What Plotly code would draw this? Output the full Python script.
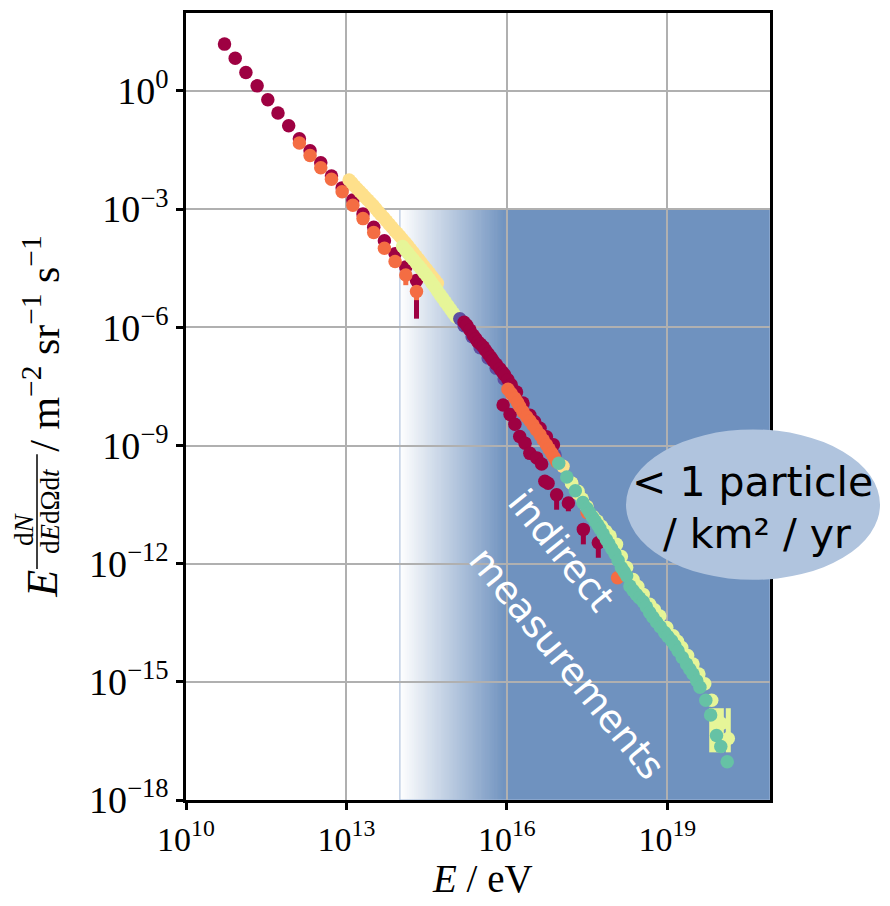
import numpy as np
import plotly.graph_objects as go

# ---------------- data (log10 E/eV , log10 flux) ----------------
# low-energy direct measurements (dark red)
a_logE = [10.72, 10.92, 11.12, 11.33, 11.53, 11.72, 11.92, 12.12, 12.32, 12.52,
          12.72, 12.92, 13.12, 13.31, 13.51, 13.71, 13.91, 14.11, 14.31]
a_logF = [1.19, 0.83, 0.47, 0.13, -0.22, -0.56, -0.88, -1.21, -1.52, -1.82,
          -2.16, -2.46, -2.77, -3.12, -3.46, -3.80, -4.13, -4.47, -4.81]
a_logLow = [None] * 17 + [-4.62, -5.78]

# direct measurements (orange)
b_logE = [12.12, 12.32, 12.52, 12.72, 12.92, 13.12, 13.31, 13.51, 13.71, 13.91, 14.11, 14.31]
b_logF = [-1.32, -1.64, -1.95, -2.24, -2.56, -2.90, -3.24, -3.59, -3.99, -4.33, -4.67, -5.09]
b_logLow = [None] * 10 + [-4.93, -5.31]

# dense direct measurement (light yellow)
c_logE = [13.05, 13.10, 13.15, 13.20, 13.25, 13.30, 13.35, 13.40, 13.45, 13.50,
          13.55, 13.60, 13.65, 13.70, 13.75, 13.80, 13.85, 13.90, 13.95, 14.00,
          14.05, 14.10, 14.15, 14.20, 14.25, 14.30, 14.35, 14.40, 14.45, 14.50,
          14.55, 14.60, 14.65, 14.70]
c_logF = [-2.26, -2.33, -2.41, -2.48, -2.55, -2.62, -2.70, -2.77, -2.84, -2.91,
          -2.99, -3.07, -3.15, -3.22, -3.30, -3.38, -3.46, -3.54, -3.61, -3.69,
          -3.77, -3.85, -3.93, -4.02, -4.10, -4.19, -4.27, -4.36, -4.45, -4.53,
          -4.62, -4.71, -4.79, -4.88]

# dense measurement (yellow-green)
d_logE = [14.05, 14.10, 14.15, 14.20, 14.25, 14.30, 14.35, 14.40, 14.45, 14.50,
          14.55, 14.60, 14.65, 14.70, 14.75, 14.80, 14.85, 14.90, 14.95, 15.00, 15.05]
d_logF = [-3.95, -4.03, -4.11, -4.20, -4.28, -4.36, -4.44, -4.52, -4.61, -4.69,
          -4.78, -4.88, -4.97, -5.07, -5.17, -5.26, -5.36, -5.45, -5.55, -5.64, -5.74]

# purple set (mostly hidden)
e_logE = [15.12, 15.20, 15.35, 15.50, 15.65, 15.80, 15.95, 16.10, 16.30, 16.50, 16.70, 16.90]
e_logF = [-5.78, -5.96, -6.24, -6.52, -6.78, -7.04, -7.31, -7.58, -7.98, -8.38, -8.80, -9.24]

# knee region (dark red)
f_logE = [15.20, 15.25, 15.31, 15.37, 15.42, 15.46, 15.51, 15.56, 15.60, 15.65,
          15.70, 15.74, 15.80, 15.87, 15.92, 15.96, 16.02, 16.08, 16.18, 16.30,
          16.43, 16.52, 16.62, 16.74, 16.87]
f_logF = [-5.87, -5.95, -6.07, -6.20, -6.29, -6.37, -6.43, -6.50, -6.58, -6.67,
          -6.76, -6.84, -6.94, -7.05, -7.14, -7.21, -7.33, -7.46, -7.64, -7.92,
          -8.23, -8.40, -8.56, -8.78, -8.98]

# lower branch (dark red) with error bars
k_logE = [15.93, 16.06, 16.15, 16.24, 16.34, 16.43, 16.56, 16.65, 16.71, 16.77,
          16.93, 17.15, 17.43, 17.71]
k_logF = [-7.97, -8.21, -8.46, -8.77, -8.94, -9.20, -9.32, -9.47, -9.91, -9.96,
          -10.25, -10.46, -11.13, -11.47]
k_logLow = [None] * 10 + [-10.63, -10.67, -11.51, -11.85]

# knee region (orange)
g_logE = [16.02, 16.08, 16.15, 16.20, 16.24, 16.30, 16.37, 16.43, 16.49, 16.55,
          16.62, 16.68, 16.74, 16.79, 16.84, 16.89, 16.93, 17.50, 18.07]
g_logF = [-7.57, -7.68, -7.80, -7.91, -8.01, -8.14, -8.27, -8.37, -8.48, -8.60,
          -8.73, -8.86, -8.98, -9.09, -9.20, -9.31, -9.41, -10.70, -12.36]

# light yellow set near the second knee
h_logE = [17.05, 17.21, 17.33, 17.50]
h_logF = [-9.53, -9.95, -10.22, -10.56]

# ultra-high-energy set (yellow-green)
j_logE = [17.21, 17.33, 17.41, 17.49, 17.61, 17.69, 17.77, 17.85, 17.93, 18.05, 18.14,
          18.24, 18.36, 18.45, 18.55, 18.67, 18.76, 18.86, 18.99, 19.11, 19.19, 19.27,
          19.38, 19.48, 19.59, 19.70, 19.83, 19.92, 20.01, 20.14]
j_logF = [-9.96, -10.16, -10.36, -10.54, -10.80, -10.92, -11.05, -11.18, -11.30, -11.51, -11.82,
          -12.10, -12.40, -12.58, -12.78, -13.03, -13.17, -13.33, -13.62, -13.83, -13.97, -14.13,
          -14.33, -14.55, -14.80, -15.05, -15.47, -15.90, -16.06, -16.44]
j_logLow = [None] * 26 + [-16.79, -16.79, -16.79, -16.79]
j_logHigh = [None] * 26 + [-15.67, -15.67, -15.67, -15.67]

# ultra-high-energy set (teal)
i_logE = [16.97, 17.12, 17.28, 17.42, 17.50, 17.55, 17.60, 17.65, 17.70, 17.74, 17.80, 17.86,
          17.91, 17.96, 18.02, 18.08, 18.14, 18.19, 18.24, 18.30, 18.36, 18.42, 18.48, 18.55,
          18.61, 18.67, 18.73, 18.80, 18.87, 18.95, 19.01, 19.08, 19.14, 19.20, 19.28,
          19.36, 19.42, 19.48, 19.55, 19.61, 19.72, 19.81, 19.92, 20.00, 20.12]
i_logF = [-9.45, -9.80, -10.15, -10.45, -10.60, -10.71, -10.82, -10.92, -11.02, -11.11, -11.25, -11.39,
          -11.50, -11.62, -11.75, -11.92, -12.10, -12.20, -12.31, -12.57, -12.68, -12.78, -12.87, -12.97,
          -13.10, -13.24, -13.36, -13.49, -13.61, -13.75, -13.85, -13.96, -14.08, -14.21, -14.38,
          -14.55, -14.68, -14.80, -14.97, -15.14, -15.47, -15.84, -16.36, -16.64, -17.03]
i_logLow = [None] * 44 + [-17.18]

x_ticks = [1e10, 1e13, 1e16, 1e19]
x_ticktext = ["10<sup>10</sup>", "10<sup>13</sup>", "10<sup>16</sup>", "10<sup>19</sup>"]
y_ticks = [1e0, 1e-3, 1e-6, 1e-9, 1e-12, 1e-15, 1e-18]
y_ticktext = ["10<sup>0</sup>", "10<sup>\u22123</sup>", "10<sup>\u22126</sup>", "10<sup>\u22129</sup>",
              "10<sup>\u221212</sup>", "10<sup>\u221215</sup>", "10<sup>\u221218</sup>"]

# Spectral palette colours
DARKRED = "#9e0142"
ORANGE = "#f46d43"
LYELLOW = "#fee08b"
YGREEN = "#e6f598"
TEAL = "#66c2a5"
PURPLE = "#5e4fa2"

X_RANGE = [10.0, 20.92]
Y_RANGE = [-18.0, 1.98]
MSIZE = 13.5

fig = go.Figure()


def add_series(logE, logF, color, logLow=None, logHigh=None, size=MSIZE):
    x = np.power(10.0, np.array(logE))
    y = np.power(10.0, np.array(logF))
    err = None
    if logLow is not None or logHigh is not None:
        lo = [0.0] * len(logF)
        hi = [0.0] * len(logF)
        if logLow is not None:
            lo = [(yy - 10.0 ** l) if l is not None else 0.0 for yy, l in zip(y, logLow)]
        if logHigh is not None:
            hi = [(10.0 ** h - yy) if h is not None else 0.0 for yy, h in zip(y, logHigh)]
        err = dict(type="data", symmetric=False, array=hi, arrayminus=lo,
                   color=color, thickness=5, width=0)
    fig.add_trace(go.Scatter(x=x, y=y, mode="markers",
                             marker=dict(color=color, size=size, line=dict(width=0)),
                             error_y=err, showlegend=False, hoverinfo="skip"))


add_series(a_logE, a_logF, DARKRED, a_logLow)
add_series(b_logE, b_logF, ORANGE, b_logLow)
add_series(c_logE, c_logF, LYELLOW)
add_series(d_logE, d_logF, YGREEN)
add_series(e_logE, e_logF, PURPLE)
add_series(f_logE, f_logF, DARKRED)
add_series(k_logE, k_logF, DARKRED, k_logLow)
add_series(g_logE, g_logF, ORANGE)
add_series(h_logE, h_logF, LYELLOW)
add_series(j_logE, j_logF, YGREEN, j_logLow, j_logHigh)
add_series(i_logE, i_logF, TEAL, i_logLow)

# ---------------- shaded "indirect measurements" region ----------------
shapes = []
blue = np.array([111, 146, 191])
white = np.array([255, 255, 255])
n = 60
g0, g1 = 14.0, 16.0
for k in range(n):
    t = (k + 0.5) / n
    c = white * (1 - t) + blue * t
    xa = 10 ** (g0 + (g1 - g0) * k / n)
    xb = 10 ** (g0 + (g1 - g0) * (k + 1.4) / n)
    shapes.append(dict(type="rect", xref="x", yref="y", x0=xa, x1=min(xb, 10 ** g1),
                       y0=10 ** Y_RANGE[0], y1=1e-3, layer="below",
                       fillcolor="rgb(%d,%d,%d)" % tuple(c.astype(int)), line=dict(width=0)))
shapes.append(dict(type="rect", xref="x", yref="y", x0=10 ** g1, x1=10 ** X_RANGE[1],
                   y0=10 ** Y_RANGE[0], y1=1e-3, layer="below",
                   fillcolor="rgb(111,146,191)", line=dict(width=0)))
shapes.append(dict(type="rect", xref="x", yref="y", x0=1e14, x1=10 ** X_RANGE[1],
                   y0=10 ** Y_RANGE[0], y1=1e-3, layer="below",
                   fillcolor="rgba(0,0,0,0)", line=dict(width=1, color="#a3b9d8")))

# plot-area pixel helpers (plot area: x 186..770, y 10..800)
L, R, T, B = 186, 770, 10, 800
def px(xp):
    return (xp - L) / (R - L)
def py(yp):
    return (B - yp) / (B - T)

# ellipse
shapes.append(dict(type="circle", xref="paper", yref="paper",
                   x0=px(626), x1=px(880), y0=py(579), y1=py(428),
                   fillcolor="#b0c4de", line=dict(width=0), layer="above"))
# fraction bar of y-axis label
shapes.append(dict(type="line", xref="paper", yref="paper",
                   x0=px(37), x1=px(37), y0=py(568), y1=py(453),
                   line=dict(color="black", width=1.5)))

annotations = []
sans = "DejaVu Sans"
serif = "Liberation Serif"
annotations.append(dict(text="< 1 particle", xref="paper", yref="paper", x=px(752), y=py(481),
                        showarrow=False, font=dict(family=sans, size=41, color="black"),
                        xanchor="center", yanchor="middle"))
annotations.append(dict(text="/ km\u00b2 / yr", xref="paper", yref="paper", x=px(757), y=py(533),
                        showarrow=False, font=dict(family=sans, size=41, color="black"),
                        xanchor="center", yanchor="middle"))
annotations.append(dict(text="indirect", xref="paper", yref="paper", x=px(561), y=py(549),
                        showarrow=False, textangle=51, font=dict(family=sans, size=38, color="white"),
                        xanchor="center", yanchor="middle"))
annotations.append(dict(text="measurements", xref="paper", yref="paper", x=px(567), y=py(662),
                        showarrow=False, textangle=51, font=dict(family=sans, size=38, color="white"),
                        xanchor="center", yanchor="middle"))
# axis titles
annotations.append(dict(text="<i>E</i> / eV", xref="paper", yref="paper", x=px(482), y=py(879),
                        showarrow=False, font=dict(family=serif, size=39, color="black"),
                        xanchor="center", yanchor="middle"))
annotations.append(dict(text="<i>E</i>", xref="paper", yref="paper", x=px(43), y=py(583),
                        showarrow=False, textangle=-90, font=dict(family=serif, size=44, color="black"),
                        xanchor="center", yanchor="middle"))
annotations.append(dict(text="d<i>N</i>", xref="paper", yref="paper", x=px(24), y=py(528),
                        showarrow=False, textangle=-90, font=dict(family=serif, size=27, color="black"),
                        xanchor="center", yanchor="middle"))
annotations.append(dict(text="d<i>E</i>d\u03a9d<i>t</i>", xref="paper", yref="paper", x=px(50), y=py(510),
                        showarrow=False, textangle=-90, font=dict(family=serif, size=27, color="black"),
                        xanchor="center", yanchor="middle"))
annotations.append(dict(text="/ m<sup>\u22122</sup> sr<sup>\u22121</sup> s<sup>\u22121</sup>",
                        xref="paper", yref="paper", x=px(42), y=py(342),
                        showarrow=False, textangle=-90, font=dict(family=serif, size=42, color="black"),
                        xanchor="center", yanchor="middle"))

axis_common = dict(type="log", showgrid=True, gridcolor="#b0b0b0", gridwidth=1.6,
                   showline=True, linecolor="black", linewidth=2.5, mirror=True,
                   ticks="outside", ticklen=7, tickwidth=2.5, tickcolor="black",
                   zeroline=False)

fig.update_layout(
    width=890, height=906,
    margin=dict(l=L, r=890 - R, t=T, b=906 - B),
    paper_bgcolor="white", plot_bgcolor="white",
    xaxis=dict(range=X_RANGE, tickvals=x_ticks, ticktext=x_ticktext,
               tickfont=dict(family=serif, size=34, color="black"), **axis_common),
    yaxis=dict(range=Y_RANGE, tickvals=y_ticks, ticktext=y_ticktext,
               tickfont=dict(family=serif, size=38, color="black"), **axis_common),
    shapes=shapes, annotations=annotations, showlegend=False,
)

fig.write_html("out.html")
